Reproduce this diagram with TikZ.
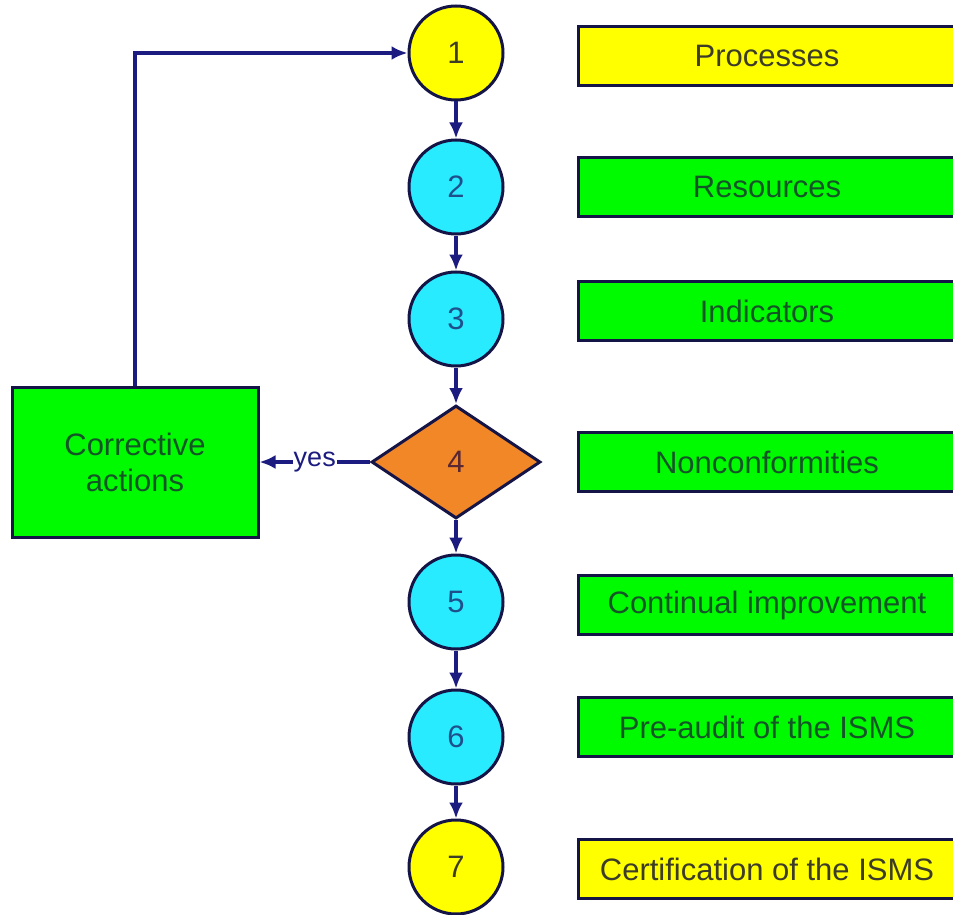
\documentclass[tikz,border=0pt]{standalone}
\usepackage{fontspec}
\setmainfont{Liberation Sans}
\usetikzlibrary{arrows.meta,shapes.geometric,positioning}

\definecolor{flowblue}{RGB}{28,28,128}
\definecolor{edgeblue}{RGB}{20,20,70}
\definecolor{stepyellow}{RGB}{255,255,0}
\definecolor{stepcyan}{RGB}{40,235,255}
\definecolor{boxgreen}{RGB}{0,250,0}
\definecolor{decorange}{RGB}{242,135,40}
\definecolor{greentext}{RGB}{20,85,40}
\definecolor{yellowtext}{RGB}{60,60,40}
\definecolor{digitblue}{RGB}{30,80,140}

\begin{document}
\begin{tikzpicture}
	[
		x				= 1pt,
		y				= -1pt,
		every node/.style	= {font = \fontsize{31}{36}\selectfont},
		stepcircle/.style	=
		{
			circle,
			draw			= edgeblue,
			line width		= 3pt,
			minimum size	= 94pt,
			inner sep		= 0pt,
			text			= digitblue
		},
		decision/.style	=
		{
			diamond,
			draw			= edgeblue,
			line width		= 3pt,
			fill			= decorange,
			minimum width	= 169pt,
			minimum height	= 113pt,
			inner sep		= 0pt,
			text			= {rgb,255:red,90;green,40;blue,50}
		},
		taskbox/.style	=
		{
			rectangle,
			draw			= edgeblue,
			line width		= 3pt,
			minimum width	= 378pt,
			minimum height	= 59pt,
			inner sep		= 0pt
		},
		flow/.style		=
		{
			draw			= flowblue,
			line width		= 3.5pt,
			-{Latex[length = 16pt, width = 14pt]}
		}
	]
		%
		\useasboundingbox (0,0) rectangle (953,915);
		%
		% steps
		\node [stepcircle, fill = stepyellow, text = yellowtext] (step1) at (456,53) {1};
		\node [stepcircle, fill = stepcyan] (step2) at (456,187) {2};
		\node [stepcircle, fill = stepcyan] (step3) at (456,319) {3};
		\node [decision] (step4) at (456,462) {4};
		\node [stepcircle, fill = stepcyan] (step5) at (456,602) {5};
		\node [stepcircle, fill = stepcyan] (step6) at (456,737) {6};
		\node [stepcircle, fill = stepyellow, text = yellowtext] (step7) at (456,867) {7};
		%
		% descriptions
		\node [taskbox, fill = stepyellow, text = yellowtext] (processes) at (767,56) {Processes};
		\node [taskbox, fill = boxgreen, text = greentext] (resources) at (767,187) {Resources};
		\node [taskbox, fill = boxgreen, text = greentext] (indicators) at (767,311) {Indicators};
		\node [taskbox, fill = boxgreen, text = greentext] (nonconf) at (767,462) {Nonconformities};
		\node [taskbox, fill = boxgreen, text = greentext] (improve) at (767,605) {Continual improvement};
		\node [taskbox, fill = boxgreen, text = greentext] (preaudit) at (767,727) {Pre-audit of the ISMS};
		\node [taskbox, fill = stepyellow, text = yellowtext] (certif) at (767,869) {Certification of the ISMS};
		%
		% corrective actions
		\node
		[
			rectangle,
			draw			= edgeblue,
			line width		= 3pt,
			fill			= boxgreen,
			text			= greentext,
			minimum width	= 246pt,
			minimum height	= 150pt,
			align			= center
		]
		(corrective) at (135,462) {Corrective\\actions};
		%
		% connectors
		\foreach \from/\to in {step1/step2, step2/step3, step3/step4, step4/step5, step5/step6, step6/step7}
			\draw [flow] (\from.south) -- (\to.north);
		\draw [flow] (step4.west) -- node [fill = white, inner sep = 1pt, text = flowblue, font = \fontsize{27}{32}\selectfont] (yes) {yes} (corrective.east);
		\draw [flow] (corrective.north) |- (step1.west);
		%
	\end{tikzpicture}
\end{document}
